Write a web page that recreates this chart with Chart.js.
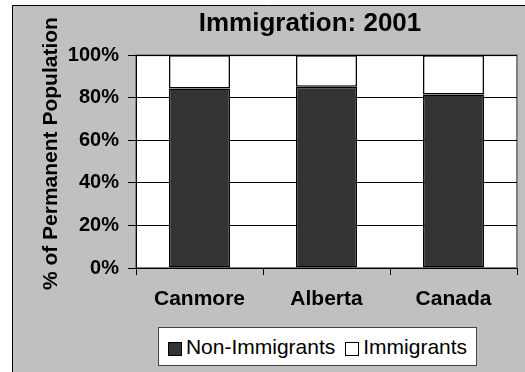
<!DOCTYPE html>
<html>
<head>
<meta charset="utf-8">
<title>Immigration: 2001</title>
<script src="https://cdn.jsdelivr.net/npm/chart.js@4.4.0/dist/chart.umd.min.js"></script>
<style>
  html, body { margin: 0; padding: 0; background: #fff; }
  #wrap { position: relative; width: 525px; height: 372px; }
  #legend {
    position: absolute; left: 158px; top: 327px; width: 317px; height: 37px;
    background: #fff; border: 1px solid #444;
    display: flex; align-items: center; justify-content: center;
    font: 21px "Liberation Sans", Arial, sans-serif; color: #000;
  }
  #legend .item { display: flex; align-items: center; margin: 0 5px; }
  #legend .swatch { width: 12px; height: 12px; border: 1px solid #000; margin-right: 4px; margin-top: 4px; }
</style>
</head>
<body>
<div id="wrap">
  <canvas id="myChart" width="525" height="372"></canvas>
  <div id="legend"></div>
</div>
<script>
// Share of permanent population, 2001
var categories = ["Canmore", "Alberta", "Canada"];
var nonImmigrants = [84.3, 85.2, 81.5];
var immigrants = [15.7, 14.8, 18.5];
var yTicks = [0, 20, 40, 60, 80, 100];

var seriesNames = ["Non-Immigrants", "Immigrants"];
var seriesColors = ["#333333", "#ffffff"];
var yTitle = "% of Permanent Population";

Chart.defaults.font.family = '"Liberation Sans", Arial, sans-serif';
Chart.defaults.color = "#000";

// grey panel behind the chart, white plot area, title moved over the plot,
// and the y axis title sitting a little above the plot's middle
var panel = {
  id: "panel",
  afterLayout: function (chart) {
    var t = chart.titleBlock;
    t.left = 95;
    t.right = 525;
  },
  beforeDraw: function (chart) {
    var ctx = chart.ctx, a = chart.chartArea;
    ctx.save();
    ctx.fillStyle = "#fff";
    ctx.fillRect(0, 0, chart.width, chart.height);
    ctx.fillStyle = "#c0c0c0";
    ctx.fillRect(12, 5, chart.width, chart.height);
    ctx.strokeStyle = "#000";
    ctx.lineWidth = 1;
    ctx.beginPath();
    ctx.moveTo(12.5, chart.height);
    ctx.lineTo(12.5, 5.5);
    ctx.lineTo(chart.width, 5.5);
    ctx.stroke();
    ctx.fillStyle = "#fff";
    ctx.fillRect(a.left, a.top, a.width, a.height);
    ctx.strokeStyle = "#808080";
    ctx.lineWidth = 2;
    ctx.strokeRect(a.left, a.top, a.width, a.height);
    ctx.restore();
  },
  afterDraw: function (chart) {
    var ctx = chart.ctx, a = chart.chartArea;
    ctx.save();
    ctx.translate(57, (a.top + a.bottom) / 2 - 8);
    ctx.rotate(-Math.PI / 2);
    ctx.font = 'bold 21px "Liberation Sans", Arial, sans-serif';
    ctx.fillStyle = "#000";
    ctx.textAlign = "center";
    ctx.textBaseline = "alphabetic";
    ctx.fillText(yTitle, 0, 0);
    ctx.restore();
  }
};

new Chart(document.getElementById("myChart"), {
  type: "bar",
  data: {
    labels: categories,
    datasets: [{
      label: seriesNames[0],
      data: nonImmigrants,
      backgroundColor: seriesColors[0],
      borderColor: "#000",
      borderWidth: 1.5,
      borderSkipped: false
    }, {
      label: seriesNames[1],
      data: immigrants,
      backgroundColor: seriesColors[1],
      borderColor: "#000",
      borderWidth: 1.5,
      borderSkipped: false
    }]
  },
  options: {
    responsive: false,
    animation: false,
    events: [],
    layout: { padding: { left: 14, right: 8, top: 0, bottom: 0 } },
    datasets: { bar: { categoryPercentage: 1, barPercentage: 0.48 } },
    plugins: {
      legend: { display: false },
      tooltip: { enabled: false },
      title: {
        display: true,
        text: "Immigration: 2001",
        font: { size: 26, weight: "bold" },
        color: "#000",
        padding: { top: 8, bottom: 16 }
      }
    },
    scales: {
      x: {
        stacked: true,
        afterFit: function (s) { s.height = 104; },
        grid: { offset: true, drawOnChartArea: false, drawTicks: true, tickLength: 7, color: "#000" },
        border: { color: "#000" },
        ticks: { padding: 12, font: { size: 21, weight: "bold" }, color: "#000" }
      },
      y: {
        stacked: true,
        min: 0,
        max: 100,
        afterFit: function (s) { s.width = 122; },
        afterBuildTicks: function (s) {
          s.ticks = yTicks.map(function (v) { return { value: v }; });
        },
        grid: { color: "#000", tickLength: 8 },
        border: { color: "#000" },
        ticks: {
          padding: 9,
          font: { size: 20, weight: "bold" },
          color: "#000",
          callback: function (v) { return v + "%"; }
        }
      }
    }
  },
  plugins: [panel]
});

// legend box below the plot
var legend = document.getElementById("legend");
seriesNames.forEach(function (name, i) {
  var item = document.createElement("span");
  item.className = "item";
  var sw = document.createElement("span");
  sw.className = "swatch";
  sw.style.background = seriesColors[i];
  item.appendChild(sw);
  item.appendChild(document.createTextNode(name));
  legend.appendChild(item);
});
</script>
</body>
</html>
